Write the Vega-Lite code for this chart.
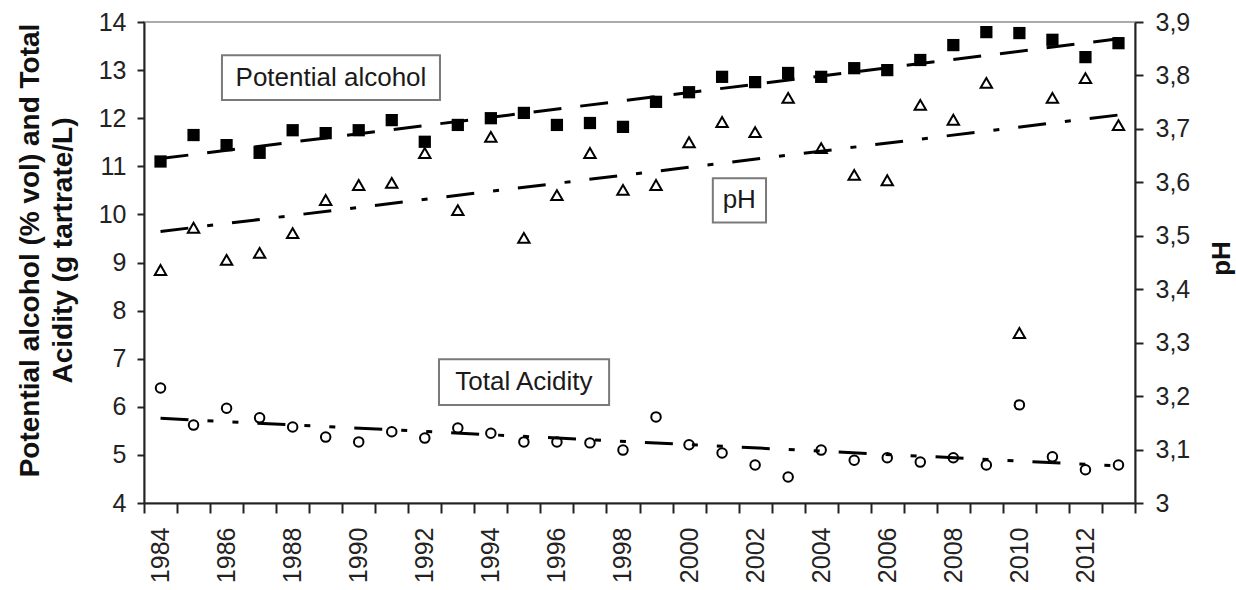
{
  "$schema": "https://vega.github.io/schema/vega-lite/v6.json",
  "width": 991,
  "height": 481,
  "autosize": {"type": "none"},
  "padding": {"left": 144, "top": 22, "right": 101, "bottom": 87},
  "config": {
    "font": "Liberation Sans",
    "view": {"stroke": "#aaaaaa", "strokeWidth": 2},
    "axis": {
      "grid": false,
      "labelFont": "Liberation Sans",
      "labelFontSize": 25,
      "labelColor": "#222222",
      "domainColor": "#222222",
      "domainWidth": 2,
      "tickColor": "#222222",
      "tickWidth": 2,
      "titleFont": "Liberation Sans",
      "titleFontWeight": "bold",
      "titleColor": "#111111"
    }
  },
  "datasets": {
    "alcohol": [
      {"year": 1984, "value": 11.10}, {"year": 1985, "value": 11.65}, {"year": 1986, "value": 11.44},
      {"year": 1987, "value": 11.28}, {"year": 1988, "value": 11.75}, {"year": 1989, "value": 11.69},
      {"year": 1990, "value": 11.75}, {"year": 1991, "value": 11.96}, {"year": 1992, "value": 11.51},
      {"year": 1993, "value": 11.86}, {"year": 1994, "value": 12.00}, {"year": 1995, "value": 12.11},
      {"year": 1996, "value": 11.86}, {"year": 1997, "value": 11.90}, {"year": 1998, "value": 11.82},
      {"year": 1999, "value": 12.34}, {"year": 2000, "value": 12.54}, {"year": 2001, "value": 12.86},
      {"year": 2002, "value": 12.75}, {"year": 2003, "value": 12.94}, {"year": 2004, "value": 12.86},
      {"year": 2005, "value": 13.04}, {"year": 2006, "value": 13.00}, {"year": 2007, "value": 13.21},
      {"year": 2008, "value": 13.52}, {"year": 2009, "value": 13.79}, {"year": 2010, "value": 13.77},
      {"year": 2011, "value": 13.63}, {"year": 2012, "value": 13.27}, {"year": 2013, "value": 13.56}
    ],
    "acidity": [
      {"year": 1984, "value": 6.39}, {"year": 1985, "value": 5.62}, {"year": 1986, "value": 5.97},
      {"year": 1987, "value": 5.77}, {"year": 1988, "value": 5.58}, {"year": 1989, "value": 5.37},
      {"year": 1990, "value": 5.27}, {"year": 1991, "value": 5.48}, {"year": 1992, "value": 5.35},
      {"year": 1993, "value": 5.56}, {"year": 1994, "value": 5.45}, {"year": 1995, "value": 5.27},
      {"year": 1996, "value": 5.27}, {"year": 1997, "value": 5.25}, {"year": 1998, "value": 5.10},
      {"year": 1999, "value": 5.79}, {"year": 2000, "value": 5.21}, {"year": 2001, "value": 5.04},
      {"year": 2002, "value": 4.79}, {"year": 2003, "value": 4.54}, {"year": 2004, "value": 5.10},
      {"year": 2005, "value": 4.89}, {"year": 2006, "value": 4.94}, {"year": 2007, "value": 4.85},
      {"year": 2008, "value": 4.94}, {"year": 2009, "value": 4.79}, {"year": 2010, "value": 6.04},
      {"year": 2011, "value": 4.96}, {"year": 2012, "value": 4.69}, {"year": 2013, "value": 4.79}
    ],
    "ph": [
      {"year": 1984, "value": 3.436}, {"year": 1985, "value": 3.515}, {"year": 1986, "value": 3.455},
      {"year": 1987, "value": 3.468}, {"year": 1988, "value": 3.505}, {"year": 1989, "value": 3.567},
      {"year": 1990, "value": 3.595}, {"year": 1991, "value": 3.599}, {"year": 1992, "value": 3.655},
      {"year": 1993, "value": 3.548}, {"year": 1994, "value": 3.685}, {"year": 1995, "value": 3.496},
      {"year": 1996, "value": 3.576}, {"year": 1997, "value": 3.655}, {"year": 1998, "value": 3.586},
      {"year": 1999, "value": 3.595}, {"year": 2000, "value": 3.675}, {"year": 2001, "value": 3.713},
      {"year": 2002, "value": 3.694}, {"year": 2003, "value": 3.758}, {"year": 2004, "value": 3.664},
      {"year": 2005, "value": 3.614}, {"year": 2006, "value": 3.604}, {"year": 2007, "value": 3.745},
      {"year": 2008, "value": 3.717}, {"year": 2009, "value": 3.786}, {"year": 2010, "value": 3.318},
      {"year": 2011, "value": 3.758}, {"year": 2012, "value": 3.795}, {"year": 2013, "value": 3.707}
    ],
    "trend_alcohol": [{"year": 1984, "value": 11.16}, {"year": 2013, "value": 13.65}],
    "trend_acidity": [{"year": 1984, "value": 5.76}, {"year": 2013, "value": 4.77}],
    "trend_ph": [{"year": 1984, "value": 3.508}, {"year": 2013, "value": 3.726}],
    "labels": [
      {"label": "Potential alcohol", "year": 1985.86, "year2": 1992.46, "value": 13.31, "value2": 12.38, "xmid": 1989.16, "ymid": 12.84},
      {"label": "pH", "year": 2000.72, "year2": 2002.33, "value": 10.75, "value2": 9.83, "xmid": 2001.52, "ymid": 10.29},
      {"label": "Total Acidity", "year": 1992.43, "year2": 1997.58, "value": 6.99, "value2": 6.04, "xmid": 1995.0, "ymid": 6.515}
    ]
  },
  "encoding": {
    "x": {
      "field": "year",
      "type": "quantitative",
      "scale": {"domain": [1983.5, 2013.5], "nice": false, "zero": false},
      "axis": {
        "orient": "bottom",
        "title": null,
        "values": [1983.5, 1984.5, 1985.5, 1986.5, 1987.5, 1988.5, 1989.5, 1990.5, 1991.5, 1992.5, 1993.5, 1994.5, 1995.5, 1996.5, 1997.5, 1998.5, 1999.5, 2000.5, 2001.5, 2002.5, 2003.5, 2004.5, 2005.5, 2006.5, 2007.5, 2008.5, 2009.5, 2010.5, 2011.5, 2012.5, 2013.5],
        "labelExpr": "(datum.value + 0.5) % 2 == 0 && datum.value < 2013 ? '' + (datum.value + 0.5) : ''",
        "labelOffset": 16.5,
        "labelAngle": -90,
        "labelAlign": "right",
        "labelBaseline": "middle",
        "labelOverlap": false,
        "labelFlush": false,
        "labelBound": false,
        "tickSize": 10,
        "labelPadding": 14
      }
    }
  },
  "layer": [
    {
      "encoding": {
        "y": {
          "field": "value",
          "type": "quantitative",
          "scale": {"domain": [4, 14], "nice": false, "zero": false},
          "axis": {
            "orient": "left",
            "values": [4, 5, 6, 7, 8, 9, 10, 11, 12, 13, 14],
            "tickSize": 7,
            "labelPadding": 11,
            "title": ["Potential alcohol (% vol) and Total", "Acidity (g tartrate/L)"],
            "titleFontSize": 28,
            "titleLineHeight": 33,
            "titleAngle": 270,
            "titleAlign": "center",
            "titleBaseline": "middle",
            "titleX": -114,
            "titleY": 228
          }
        }
      },
      "layer": [
        {
          "data": {"name": "labels"},
          "mark": {"type": "rect", "fill": "white", "stroke": "#7a7a7a", "strokeWidth": 2},
          "encoding": {
            "x2": {"field": "year2"},
            "y2": {"field": "value2"}
          }
        },
        {
          "data": {"name": "labels"},
          "mark": {"type": "text", "fontSize": 26, "font": "Liberation Sans", "color": "#1a1a1a", "align": "center", "baseline": "middle"},
          "encoding": {
            "x": {"field": "xmid", "type": "quantitative"},
            "y": {"field": "ymid", "type": "quantitative"},
            "text": {"field": "label"}
          }
        },
        {
          "data": {"name": "trend_alcohol"},
          "mark": {"type": "line", "color": "black", "strokeWidth": 3, "strokeDash": [28, 19]},
          "encoding": {}
        },
        {
          "data": {"name": "trend_acidity"},
          "mark": {"type": "line", "color": "black", "strokeWidth": 3, "strokeDash": [28, 19, 6, 19, 6, 19]},
          "encoding": {}
        },
        {
          "data": {"name": "alcohol"},
          "mark": {"type": "point", "shape": "square", "filled": true, "color": "black", "size": 150, "opacity": 1},
          "encoding": {}
        },
        {
          "data": {"name": "acidity"},
          "mark": {"type": "point", "shape": "circle", "filled": false, "color": "black", "size": 90, "strokeWidth": 2, "opacity": 1},
          "encoding": {}
        }
      ]
    },
    {
      "encoding": {
        "y": {
          "field": "value",
          "type": "quantitative",
          "scale": {"domain": [3, 3.9], "nice": false, "zero": false},
          "axis": {
            "orient": "right",
            "values": [3, 3.1, 3.2, 3.3, 3.4, 3.5, 3.6, 3.7, 3.8, 3.9],
            "labelExpr": "datum.value == 3 ? '3' : replace(format(datum.value, '.1f'), '.', ',')",
            "tickSize": 8,
            "labelPadding": 12,
            "title": "pH",
            "titleFontSize": 26,
            "titleAngle": 270,
            "titleAlign": "center",
            "titleBaseline": "middle",
            "titleX": 86,
            "titleY": 236
          }
        }
      },
      "layer": [
        {
          "data": {"name": "trend_ph"},
          "mark": {"type": "line", "color": "black", "strokeWidth": 3, "strokeDash": [28, 19, 6, 19]},
          "encoding": {}
        },
        {
          "data": {"name": "ph"},
          "mark": {"type": "point", "shape": "triangle-up", "filled": false, "color": "black", "size": 130, "strokeWidth": 2, "opacity": 1},
          "encoding": {}
        }
      ]
    }
  ],
  "resolve": {"scale": {"y": "independent"}}
}
